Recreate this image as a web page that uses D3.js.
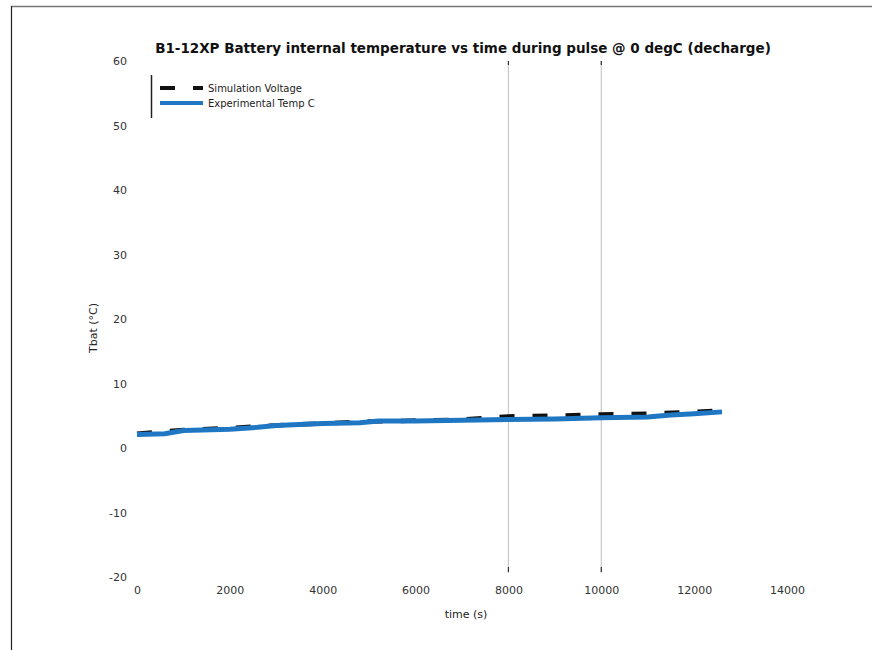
<!DOCTYPE html>
<html><head><meta charset="utf-8">
<script src="https://cdn.jsdelivr.net/npm/d3@7"></script>
<style>body{margin:0;background:#fff;font-family:"DejaVu Sans",sans-serif;}</style>
</head><body><svg id="c" width="872" height="650"></svg>
<script>
const titleText = "B1-12XP Battery internal temperature vs time during pulse @ 0 degC (decharge)";
const xLabel = "time (s)";
const yLabel = "Tbat (°C)";
const legendNames = ["Simulation Voltage", "Experimental Temp C"];
const xTicks = [0, 2000, 4000, 6000, 8000, 10000, 12000, 14000];
const yTicks = [-20, -10, 0, 10, 20, 30, 40, 50, 60];
const markerTimes = [8000, 10000];
const simTime = [0, 1000, 2000, 3000, 4000, 5000, 6000, 7000, 8000, 9000, 10000, 11000, 12000, 12600];
const simTemp = [2.2, 2.8, 3.1, 3.5, 3.8, 4.1, 4.25, 4.4, 4.9, 5.0, 5.2, 5.3, 5.6, 5.8];
const expTime = [0, 600, 1000, 2000, 2600, 3000, 4000, 4800, 5200, 6000, 7000, 8000, 9000, 10000, 11000, 11500, 12000, 12600];
const expTemp = [2.1, 2.2, 2.7, 2.9, 3.2, 3.5, 3.8, 3.9, 4.2, 4.2, 4.3, 4.4, 4.5, 4.7, 4.8, 5.1, 5.3, 5.6];

const FONT = "'DejaVu Sans', sans-serif";
const svg = d3.select("#c");
const x = d3.scaleLinear().domain([0, 14000]).range([137, 787]);
const y = d3.scaleLinear().domain([-20, 60]).range([577, 61]);

// frame
svg.append("line").attr("x1", 11.5).attr("x2", 872).attr("y1", 6.5).attr("y2", 6.5).attr("stroke", "#777").attr("stroke-width", 1.5);
svg.append("line").attr("x1", 11.5).attr("x2", 11.5).attr("y1", 6).attr("y2", 650).attr("stroke", "#222").attr("stroke-width", 1.2);

// title
svg.append("text").attr("x", 463).attr("y", 53).attr("text-anchor", "middle").attr("font-family", FONT)
  .attr("font-size", 13.5).attr("font-weight", "bold").attr("fill", "#111").text(titleText);

// axes (labels only)
const fmt = d => String(d);
const xAxis = d3.axisBottom(x).tickValues(xTicks).tickSize(0).tickPadding(0).tickFormat(fmt);
const gx = svg.append("g").attr("transform", "translate(0,586)").call(xAxis);
gx.select(".domain").remove();
gx.selectAll("text").attr("font-size", 11).attr("fill", "#333").attr("font-family", FONT);

const yAxis = d3.axisLeft(y).tickValues(yTicks).tickSize(0).tickPadding(0).tickFormat(fmt);
const gy = svg.append("g").attr("transform", "translate(127,0)").call(yAxis);
gy.select(".domain").remove();
gy.selectAll("text").attr("font-size", 11).attr("fill", "#333").attr("font-family", FONT);

svg.append("text").attr("x", 466).attr("y", 618).attr("text-anchor", "middle").attr("font-family", FONT)
  .attr("font-size", 11).attr("fill", "#222").text(xLabel);
svg.append("text").attr("transform", "translate(97,328) rotate(-90)").attr("text-anchor", "middle").attr("font-family", FONT)
  .attr("font-size", 11).attr("fill", "#222").text(yLabel);

// vertical marker lines
markerTimes.forEach(t => {
  svg.append("line").attr("x1", x(t)).attr("x2", x(t)).attr("y1", y(60)).attr("y2", y(-20) - 4)
    .attr("stroke", "#c8c8c8").attr("stroke-width", 1.2);
  svg.append("line").attr("x1", x(t)).attr("x2", x(t)).attr("y1", y(60)).attr("y2", y(60) + 4)
    .attr("stroke", "#333").attr("stroke-width", 1.2);
  svg.append("line").attr("x1", x(t)).attr("x2", x(t)).attr("y1", y(-20) - 10).attr("y2", y(-20) - 5)
    .attr("stroke", "#333").attr("stroke-width", 1.2);
});

const line = d3.line().x(d => x(d[0])).y(d => y(d[1]));
const simData = simTime.map((t, i) => [t, simTemp[i]]);
const expData = expTime.map((t, i) => [t, expTemp[i]]);

svg.append("path").datum(simData).attr("d", line).attr("fill", "none")
  .attr("stroke", "#111").attr("stroke-width", 4.5).attr("stroke-dasharray", "15,18");
svg.append("path").datum(expData).attr("d", line).attr("fill", "none")
  .attr("stroke", "#1f77c4").attr("stroke-width", 5);

// legend
const lg = svg.append("g");
lg.append("line").attr("x1", 151.5).attr("x2", 151.5).attr("y1", 75).attr("y2", 118).attr("stroke", "#222").attr("stroke-width", 1.5);
lg.append("line").attr("x1", 160).attr("x2", 203).attr("y1", 88).attr("y2", 88)
  .attr("stroke", "#111").attr("stroke-width", 4).attr("stroke-dasharray", "15,18");
lg.append("line").attr("x1", 160).attr("x2", 203).attr("y1", 103).attr("y2", 103)
  .attr("stroke", "#1f77c4").attr("stroke-width", 4);
legendNames.forEach((n, i) => {
  lg.append("text").attr("x", 208).attr("y", 91.5 + i * 15).attr("font-family", FONT)
    .attr("font-size", 10).attr("fill", "#222").text(n);
});
</script></body></html>
